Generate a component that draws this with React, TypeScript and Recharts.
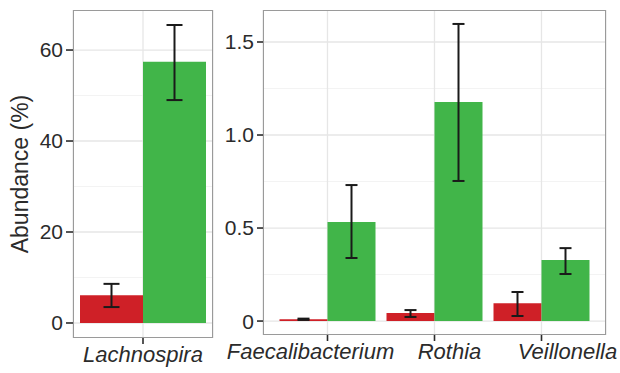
import React from 'react'
import { BarChart, Bar, XAxis, YAxis, CartesianGrid, ErrorBar } from 'recharts'

// left panel
const leftGenera = ['Lachnospira']
const leftRedMean = [6.1]
const leftRedLow = [3.5]
const leftRedHigh = [8.6]
const leftGreenMean = [57.4]
const leftGreenLow = [49.0]
const leftGreenHigh = [65.5]
const leftTicks = [0, 20, 40, 60]
const leftMinor = [10, 30, 50]

// right panel
const rightGenera = ['Faecalibacterium', 'Rothia', 'Veillonella']
const rightRedMean = [0.01, 0.043, 0.096]
const rightRedLow = [0.006, 0.022, 0.027]
const rightRedHigh = [0.013, 0.059, 0.156]
const rightGreenMean = [0.532, 1.177, 0.328]
const rightGreenLow = [0.339, 0.753, 0.253]
const rightGreenHigh = [0.731, 1.597, 0.392]
const rightTicks = [0, 0.5, 1.0, 1.5]
const rightMinor = [0.25, 0.75, 1.25]

const RED = '#cf2027'
const GREEN = '#41b549'
const INK = '#2b2b2b'
const FONT = '"Liberation Sans", Arial, sans-serif'

// the original labels sit a little off their ticks
const labelShift: Record<string, number> = { Faecalibacterium: -17, Rothia: 15, Veillonella: 26 }

function buildRows(names: string[], rm: number[], rl: number[], rh: number[], gm: number[], gl: number[], gh: number[]) {
  return names.map((name, i) => ({
    name,
    red: rm[i],
    redErr: [rm[i] - rl[i], rh[i] - rm[i]],
    green: gm[i],
    greenErr: [gm[i] - gl[i], gh[i] - gm[i]],
  }))
}

const leftData = buildRows(leftGenera, leftRedMean, leftRedLow, leftRedHigh, leftGreenMean, leftGreenLow, leftGreenHigh)
const rightData = buildRows(rightGenera, rightRedMean, rightRedLow, rightRedHigh, rightGreenMean, rightGreenLow, rightGreenHigh)

const tickStyle = { fontSize: 21, fill: INK, fontFamily: FONT }

const CatTick = (props: any) => {
  const { x, y, payload } = props
  return (
    <text x={x + (labelShift[payload.value] ?? 0)} y={y} dy="0.71em" textAnchor="middle"
      style={{ fontSize: 22, fill: INK, fontFamily: FONT, fontStyle: 'italic' }}>
      {payload.value}
    </text>
  )
}

const yLabel = (props: any) => {
  const vb = props.viewBox || {}
  const x = vb.x + 20
  const y = vb.y + vb.height / 2
  return (
    <text x={x} y={y} transform={`rotate(-90, ${x}, ${y})`} textAnchor="middle" dominantBaseline="central"
      style={{ fontSize: 23, fill: INK, fontFamily: FONT }}>
      Abundance (%)
    </text>
  )
}

const fmtRight = (v: number) => (v === 0 ? '0' : v.toFixed(1))

// panel geometry (px)
const L = { left: 0, width: 215, height: 373, axisW: 73, top: 10, bottom: 35, right: 2 }
const R = { left: 215, width: 405, height: 373, axisW: 48, top: 10, bottom: 38, right: 14 }

function Border({ p }: { p: typeof L }) {
  return (
    <div style={{
      position: 'absolute',
      left: p.left + p.axisW,
      top: p.top,
      width: p.width - p.axisW - p.right,
      height: p.height - p.top - p.bottom,
      border: '1.3px solid #9a9a9a',
      boxSizing: 'border-box',
      pointerEvents: 'none',
    }} />
  )
}

export default function App() {
  return (
    <div style={{ position: 'absolute', left: 0, top: 0, width: 620, height: 373, background: '#fff' }}>
      <div style={{ position: 'absolute', left: L.left, top: 0 }}>
        <BarChart width={L.width} height={L.height} data={leftData}
          margin={{ top: L.top, right: L.right, left: 0, bottom: 0 }}
          barCategoryGap={7} barGap={0}>
          <CartesianGrid horizontalValues={leftMinor} vertical={false} stroke="#f3f3f3" strokeWidth={1} />
          <CartesianGrid horizontalValues={leftTicks} stroke="#e6e6e6" strokeWidth={1.3} />
          <XAxis dataKey="name" height={L.bottom} axisLine={false} interval={0}
            tickSize={6} tickMargin={2} tickLine={{ stroke: INK, strokeWidth: 1.6 }} tick={<CatTick />} />
          <YAxis type="number" domain={[-3.3, 68.8]} ticks={leftTicks} width={L.axisW} axisLine={false}
            allowDataOverflow tickSize={7} tickMargin={3} tickLine={{ stroke: INK, strokeWidth: 1.6 }}
            tick={tickStyle} label={yLabel} />
          <Bar dataKey="red" fill={RED} isAnimationActive={false}>
            <ErrorBar dataKey="redErr" width={8} stroke="#1a1a1a" strokeWidth={2} direction="y" />
          </Bar>
          <Bar dataKey="green" fill={GREEN} isAnimationActive={false}>
            <ErrorBar dataKey="greenErr" width={8} stroke="#1a1a1a" strokeWidth={2} direction="y" />
          </Bar>
        </BarChart>
      </div>
      <Border p={L} />
      <div style={{ position: 'absolute', left: R.left, top: 0 }}>
        <BarChart width={R.width} height={R.height} data={rightData}
          margin={{ top: R.top, right: R.right, left: 0, bottom: 0 }}
          barCategoryGap={5.5} barGap={0} style={{ overflow: 'visible' }}>
          <CartesianGrid horizontalValues={rightMinor} vertical={false} stroke="#f3f3f3" strokeWidth={1} />
          <CartesianGrid horizontalValues={rightTicks} stroke="#e6e6e6" strokeWidth={1.3} />
          <XAxis dataKey="name" height={R.bottom} axisLine={false} interval={0} padding={{ left: 11, right: 11 }}
            tickSize={6} tickMargin={2} tickLine={{ stroke: INK, strokeWidth: 1.6 }} tick={<CatTick />} />
          <YAxis type="number" domain={[-0.075, 1.672]} ticks={rightTicks} width={R.axisW} axisLine={false}
            allowDataOverflow tickSize={6} tickMargin={3} tickLine={{ stroke: INK, strokeWidth: 1.6 }}
            tick={tickStyle} tickFormatter={fmtRight} />
          <Bar dataKey="red" fill={RED} isAnimationActive={false}>
            <ErrorBar dataKey="redErr" width={6} stroke="#1a1a1a" strokeWidth={2} direction="y" />
          </Bar>
          <Bar dataKey="green" fill={GREEN} isAnimationActive={false}>
            <ErrorBar dataKey="greenErr" width={6} stroke="#1a1a1a" strokeWidth={2} direction="y" />
          </Bar>
        </BarChart>
      </div>
      <Border p={R} />
    </div>
  )
}
